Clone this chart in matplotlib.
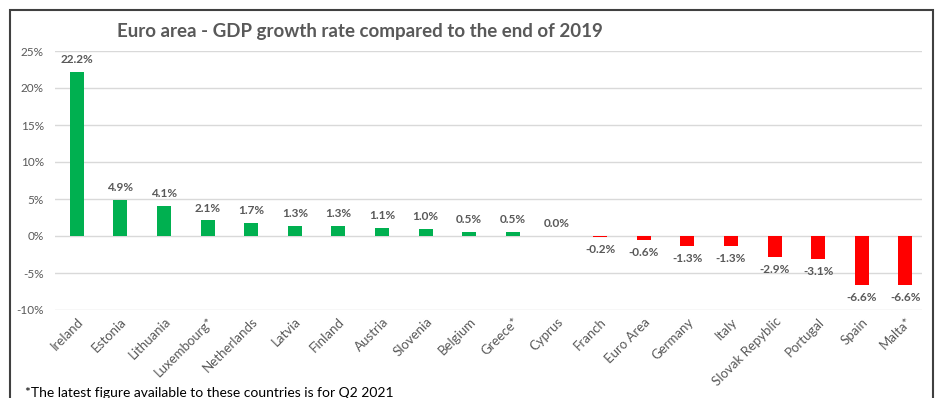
import matplotlib.pyplot as plt
from matplotlib.patches import Rectangle

countries = ['Ireland', 'Estonia', 'Lithuania', 'Luxembourg*', 'Netherlands', 'Latvia',
             'Finland', 'Austria', 'Slovenia', 'Belgium', 'Greece*', 'Cyprus', 'Franch',
             'Euro Area', 'Germany', 'Italy', 'Slovak Repyblic', 'Portugal', 'Spain', 'Malta*']
growth = [22.2, 4.9, 4.1, 2.1, 1.7, 1.3, 1.3, 1.1, 1.0, 0.5, 0.5, 0.0, -0.2,
          -0.6, -1.3, -1.3, -2.9, -3.1, -6.6, -6.6]
yticks = [-10, -5, 0, 5, 10, 15, 20, 25]

plt.rcParams['font.family'] = ['Lato', 'DejaVu Sans']
grey = '#595959'

fig = plt.figure(figsize=(9.38, 3.98), dpi=100)
ax = fig.add_axes([55 / 938, 88 / 398, 867 / 938, 259 / 398])

x = list(range(len(countries)))
colors = ['#00B050' if v >= 0 else '#FF0000' for v in growth]
ax.bar(x, growth, width=0.32, color=colors, zorder=3)

for xi, v in zip(x, growth):
    if v >= 0:
        ax.annotate(f'{v:.1f}%', (xi, v), xytext=(0, 5), textcoords='offset points',
                    ha='center', va='bottom', fontsize=8.5, fontweight='bold', color=grey)
    else:
        ax.annotate(f'{v:.1f}%', (xi, v), xytext=(0, -5), textcoords='offset points',
                    ha='center', va='top', fontsize=8.5, fontweight='bold', color=grey)

ax.set_xlim(-0.5, 19.38)
ax.set_ylim(-10, 25)
ax.set_yticks(yticks)
ax.set_yticklabels([f'{t}%' for t in yticks], fontsize=8.5, color=grey)
ax.set_xticks(x)
ax.set_xticklabels(countries, rotation=45, ha='right', rotation_mode='anchor',
                   fontsize=9.5, color=grey)
ax.tick_params(axis='both', length=0, pad=8)
ax.tick_params(axis='x', pad=4)
ax.grid(axis='y', color='#D9D9D9', linewidth=1, zorder=0)
for s in ax.spines.values():
    s.set_visible(False)

fig.text(360 / 938, 1 - 31 / 398, 'Euro area - GDP growth rate compared to the end of 2019',
         ha='center', va='center', fontsize=13.5, fontweight='bold', color=grey)
fig.text(25 / 938, 5 / 398, '*The latest figure available to these countries is for Q2 2021',
         ha='left', va='center', fontsize=10, color='black')

fig.patches.append(Rectangle((10 / 938, -0.1), 923 / 938, 1.1 - 10 / 398,
                             transform=fig.transFigure, fill=False,
                             edgecolor='#404040', linewidth=1.5))

fig.savefig('out.png', dpi=100)
